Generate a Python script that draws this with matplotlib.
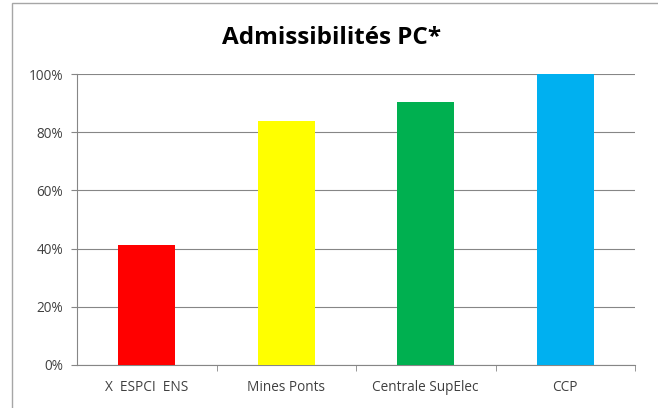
import matplotlib
matplotlib.use("Agg")
import matplotlib.pyplot as plt
from matplotlib.patches import Rectangle
from matplotlib.ticker import FuncFormatter, FixedLocator

categories = ["X  ESPCI  ENS", "Mines Ponts", "Centrale SupElec", "CCP"]
values = [41.2, 83.7, 90.5, 100.0]
colors = ["#FF0000", "#FFFF00", "#00B050", "#00B0F0"]
yticks = [0, 20, 40, 60, 80, 100]
title = "Admissibilités PC*"

plt.rcParams['font.family'] = ['Open Sans', 'DejaVu Sans']

fig = plt.figure(figsize=(6.58, 4.08), dpi=100)
fig.patch.set_facecolor("white")
# outer chart border
fig.patches.append(Rectangle((12/658, -0.05), 1.2, (408-3)/408 + 0.05,
                             transform=fig.transFigure, fill=False,
                             edgecolor="#A6A6A6", linewidth=1.0))

ax = fig.add_axes([77/658, (408-365)/408, (635-77)/658, (365-74)/408])
x = list(range(len(categories)))
ax.bar(x, values, width=0.41, color=colors, zorder=3)
ax.set_xlim(-0.5, len(categories) - 0.5)
ax.set_ylim(0, 100)
ax.set_yticks(yticks)
ax.yaxis.set_major_formatter(FuncFormatter(lambda v, p: f"{int(v)}%"))
ax.set_xticks(x)
ax.set_xticklabels(categories)
ax.xaxis.set_minor_locator(FixedLocator([i + 0.5 for i in range(len(categories))]))
ax.tick_params(axis="x", which="major", length=0, pad=11, labelsize=9.8, colors="#404040")
ax.tick_params(axis="x", which="minor", length=4, color="#868686", direction="out")
ax.tick_params(axis="y", length=4, color="#868686", labelsize=9.8, labelcolor="#404040", pad=6)
ax.grid(axis="y", color="#868686", linewidth=0.8, zorder=0)
for s in ["top", "right"]:
    ax.spines[s].set_visible(False)
ax.spines["left"].set_color("#868686")
ax.spines["bottom"].set_color("#868686")
ax.spines["left"].set_linewidth(0.8)
ax.spines["bottom"].set_linewidth(0.8)

fig.text(332/658, 1 - 38/408, title, ha="center", va="center",
         fontsize=17.5, fontweight="bold", color="black")

fig.savefig("out.png", dpi=100)
